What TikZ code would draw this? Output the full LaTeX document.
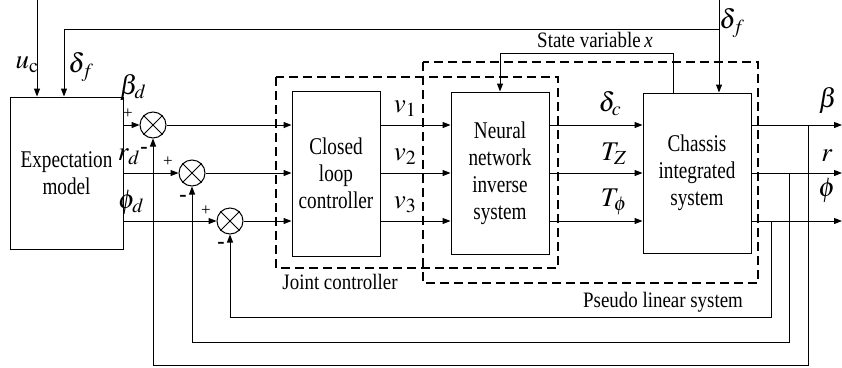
\documentclass[tikz,border=0pt]{standalone}
\usepackage{mathptmx}
\usepackage{fontspec}
\setmainfont{Liberation Serif}
\newfontfamily\boxfont{Liberation Serif}[FakeStretch=0.8]
\newfontfamily\lblfont{Liberation Serif}[FakeStretch=0.86]
\usetikzlibrary{arrows.meta}
\begin{document}
\begin{tikzpicture}[x=1pt,y=-1pt,line width=1pt,
  arr/.style={-{Triangle[length=8pt,width=6pt]}},
  blk/.style={draw,align=center,inner sep=0pt,font=\boxfont\fontsize{24}{27}\selectfont},
  sumnode/.style={draw,circle,minimum size=26pt,inner sep=0pt},
  dbox/.style={dash pattern=on 9pt off 5pt,line width=1.4pt},
  lbl/.style={font=\lblfont\fontsize{22}{24}\selectfont,inner sep=0pt},
  mth/.style={font=\fontsize{27}{29}\selectfont,inner sep=0pt},
  plus/.style={font=\fontsize{17}{17}\selectfont,inner sep=0pt},
  minus/.style={font=\fontsize{22}{22}\selectfont\bfseries,inner sep=0pt}]
\useasboundingbox (0,0) rectangle (842,367);

% blocks
\node[blk,minimum width=113pt,minimum height=152pt] (exp) at (66.5,173) {Expectation\\model};
\node[blk,minimum width=88pt,minimum height=165pt] (closed) at (336,173.5) {Closed\\loop\\controller};
\node[blk,minimum width=98pt,minimum height=162pt] (neural) at (500,173) {Neural\\network\\inverse\\system};
\node[blk,minimum width=108pt,minimum height=160pt] (chassis) at (697,173) {Chassis\\integrated\\system};

% summing junctions
\node[sumnode] (s1) at (153,125) {};
\node[sumnode] (s2) at (192,173) {};
\node[sumnode] (s3) at (230,221) {};
\foreach \s in {s1,s2,s3}{
  \draw[line width=0.8pt] (\s.north west) -- (\s.south east) (\s.north east) -- (\s.south west);
}

% dashed boxes
\draw[dbox] (276,77) rectangle (558,268);
\draw[dbox] (423,62) rectangle (758,283);

% coordinates
\coordinate (ut) at (37,0);
\coordinate (dt) at (719,0);
\coordinate (dj) at (719,29);
\coordinate (dl) at (64,29);
\coordinate (sx1) at (673,53);
\coordinate (sx2) at (500,53);
\coordinate (o1) at (842,125);
\coordinate (o2) at (842,173);
\coordinate (o3) at (842,221);
\coordinate (f1) at (808,365);
\coordinate (f2) at (789,342);
\coordinate (f3) at (771,317);

% top inputs
\draw[arr] (ut) -- (ut |- exp.north);
\draw[arr] (dt) -- (dt |- chassis.north);
\draw[arr] (dj) -- (dl) -- (dl |- exp.north);
\draw[arr] (chassis.north -| sx1) -- (sx1) -- (sx2) -- (sx2 |- neural.north);

% expectation -> junctions
\draw[arr] (exp.east |- s1) -- (s1.west);
\draw[arr] (exp.east |- s2) -- (s2.west);
\draw[arr] (exp.east |- s3) -- (s3.west);
% junctions -> closed loop
\draw[arr] (s1.east) -- (closed.west |- s1);
\draw[arr] (s2.east) -- (closed.west |- s2);
\draw[arr] (s3.east) -- (closed.west |- s3);
% closed -> neural
\draw[arr] (closed.east |- s1) -- (neural.west |- s1);
\draw[arr] (closed.east |- s2) -- (neural.west |- s2);
\draw[arr] (closed.east |- s3) -- (neural.west |- s3);
% neural -> chassis
\draw[arr] (neural.east |- s1) -- (chassis.west |- s1);
\draw[arr] (neural.east |- s2) -- (chassis.west |- s2);
\draw[arr] (neural.east |- s3) -- (chassis.west |- s3);
% outputs
\draw[arr] (chassis.east |- o1) -- (o1);
\draw[arr] (chassis.east |- o2) -- (o2);
\draw[arr] (chassis.east |- o3) -- (o3);
% feedback
\draw[arr] (f1 |- o1) -- (f1) -| (s1.south);
\draw[arr] (f2 |- o2) -- (f2) -| (s2.south);
\draw[arr] (f3 |- o3) -- (f3) -| (s3.south);

% signs
\node[plus] (p1) at (128,114) {+};
\node[plus] (p2) at (168,162) {+};
\node[plus] (p3) at (206,211) {+};
\node[minus] (m1) at (144,150) {-};
\node[minus] (m2) at (183,198) {-};
\node[minus] (m3) at (221,245) {-};

% labels
\node[mth] (luc) at (27,65) {$u_{\mathrm{c}}$};
\node[mth] (ldf) at (81,67) {$\delta_f$};
\node[mth] (ldf2) at (732,23) {$\delta_f$};
\node[mth] (lbd) at (133,87) {$\beta_d$};
\node[mth] (lrd) at (129,157) {$r_d$};
\node[mth] (lpd) at (131,202) {$\phi_d$};
\node[mth] (lv1) at (405,109) {$v_1$};
\node[mth] (lv2) at (405,157) {$v_2$};
\node[mth] (lv3) at (405,205) {$v_3$};
\node[mth] (ldc) at (610,104) {$\delta_c$};
\node[mth] (ltz) at (614,154) {$T_Z$};
\node[mth] (ltp) at (614,202) {$T_\phi$};
\node[mth] (lb) at (828,100) {$\beta$};
\node[mth] (lr) at (827,156) {$r$};
\node[mth] (lp) at (827,190) {$\phi$};
\node[lbl] (lsv) at (595,40) {State variable\,\textit{x}};
\node[lbl] (ljc) at (340,282) {Joint controller};
\node[lbl] (lpl) at (663,302) {Pseudo linear system};
\end{tikzpicture}
\end{document}
